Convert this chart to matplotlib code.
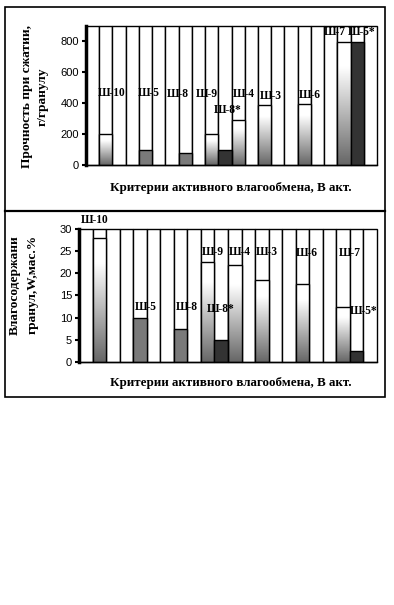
import numpy as np
import matplotlib
matplotlib.use("Agg")
import matplotlib.pyplot as plt
from matplotlib.patches import Rectangle

# ---- data ----
n_slots = 22
labels = ["Ш-10", "Ш-5", "Ш-8", "Ш-9", "Ш-8*", "Ш-4", "Ш-3", "Ш-6", "Ш-7", "Ш-5*"]
slots = [1, 4, 7, 9, 10, 11, 13, 16, 19, 20]
kind = ["grad", "solid", "solid", "grad", "dark", "grad", "grad", "grad", "grad", "dark"]
strength = [200, 100, 75, 200, 100, 290, 390, 395, 795, 795]
strength_lab_x = [1.43, 4.26, 6.42, 8.61, 10.23, 11.42, 13.48, 16.43, 18.28, 20.36]
strength_lab_y = [464, 464, 460, 460, 356, 460, 447, 453, 863, 863]
moisture = [28, 10, 7.5, 22.5, 5, 21.8, 18.5, 17.5, 12.5, 2.5]
moisture_lab_x = [0.68, 4.44, 7.46, 9.41, 9.94, 11.36, 13.38, 16.32, 19.52, 20.48]
moisture_lab_y = [32.1, 12.3, 12.3, 24.9, 11.9, 24.9, 24.9, 24.6, 24.6, 11.5]
strength_ticks = [0, 200, 400, 600, 800]
moisture_ticks = [0, 5, 10, 15, 20, 25, 30]

W, H = 394, 605
fig = plt.figure(figsize=(W / 100, H / 100), dpi=100)

serif = ["Liberation Serif", "DejaVu Serif"]
sans = ["Liberation Sans", "DejaVu Sans"]

grad = np.linspace(0, 1, 256).reshape(-1, 1)
def grad_img():
    v = 0.40 + 0.60 * np.clip(grad / 0.8, 0, 1)
    return np.dstack([v, v, v])

def draw_panel(ax, values, lab_x, lab_y, ymax, ticks):
    ax.set_xlim(-0.5, n_slots - 0.5)
    ax.set_ylim(0, ymax)
    ax.bar(range(n_slots), [ymax] * n_slots, width=1, color="white",
           edgecolor="black", linewidth=1, zorder=1, clip_on=False)
    img = grad_img()
    for x, v, k in zip(slots, values, kind):
        if k == "grad":
            bar = ax.bar(x, v, width=1, color="none", edgecolor="black",
                         linewidth=1, zorder=3)[0]
            im = ax.imshow(img, extent=(x - 0.5, x + 0.5, 0, v), origin="lower",
                           aspect="auto", zorder=2, interpolation="bilinear")
            im.set_clip_path(bar)
        else:
            c = "#7a7a7a" if k == "solid" else "#333333"
            ax.bar(x, v, width=1, color=c, edgecolor="black", linewidth=1, zorder=3)
    for lab, lx, ly in zip(labels, lab_x, lab_y):
        ax.text(lx, ly, lab, ha="center", va="center", fontsize=8.3,
                fontweight="bold", family=serif, zorder=5, clip_on=False)
    ax.set_xticks([])
    ax.set_yticks(ticks)
    ax.tick_params(axis="y", direction="out", length=3, width=1.5, pad=2,
                   labelsize=8)
    for t in ax.get_yticklabels():
        t.set_family(sans)
    for s in ["top", "right"]:
        ax.spines[s].set_visible(False)
    ax.spines["left"].set_linewidth(2.5)
    ax.spines["left"].set_zorder(6)
    ax.spines["bottom"].set_linewidth(1)
    ax.spines["bottom"].set_zorder(6)

ax1 = fig.add_axes([86 / W, 1 - 165 / H, (377 - 86) / W, (165 - 26) / H])
draw_panel(ax1, strength, strength_lab_x, strength_lab_y, 900, strength_ticks)
ax2 = fig.add_axes([79 / W, 1 - 361.7 / H, (377 - 79) / W, (361.7 - 229.3) / H])
draw_panel(ax2, moisture, moisture_lab_x, moisture_lab_y, 30, moisture_ticks)

# axis labels
fig.text(27 / W, 1 - 97 / H, "Прочность при сжатии,", rotation=90, ha="center",
         va="center", fontsize=9.6, fontweight="bold", family=serif)
fig.text(43 / W, 1 - 97 / H, "г/гранулу", rotation=90, ha="center",
         va="center", fontsize=9.6, fontweight="bold", family=serif)
fig.text(231 / W, 1 - 188 / H, "Критерии активного влагообмена, В акт.",
         ha="center", va="center", fontsize=9.4, fontweight="bold", family=serif)

fig.text(15 / W, 1 - 285 / H, "Влагосодержани", rotation=90, ha="center",
         va="center", fontsize=9.6, fontweight="bold", family=serif)
fig.text(33 / W, 1 - 284 / H, "гранул,W,мас.%", rotation=90, ha="center",
         va="center", fontsize=9.6, fontweight="bold", family=serif)
fig.text(231 / W, 1 - 383 / H, "Критерии активного влагообмена, В акт.",
         ha="center", va="center", fontsize=9.4, fontweight="bold", family=serif)

# outer frames
fig.add_artist(Rectangle((5 / W, 1 - 211 / H), 380 / W, 204 / H, fill=False,
                         edgecolor="black", linewidth=1.2, transform=fig.transFigure))
fig.add_artist(Rectangle((5 / W, 1 - 397 / H), 380 / W, 186 / H, fill=False,
                         edgecolor="black", linewidth=1.2, transform=fig.transFigure))
fig.add_artist(plt.Line2D([5 / W, 385 / W], [1 - 211 / H, 1 - 211 / H],
                          color="black", linewidth=1.6, transform=fig.transFigure))

fig.savefig("out.png", dpi=100)
